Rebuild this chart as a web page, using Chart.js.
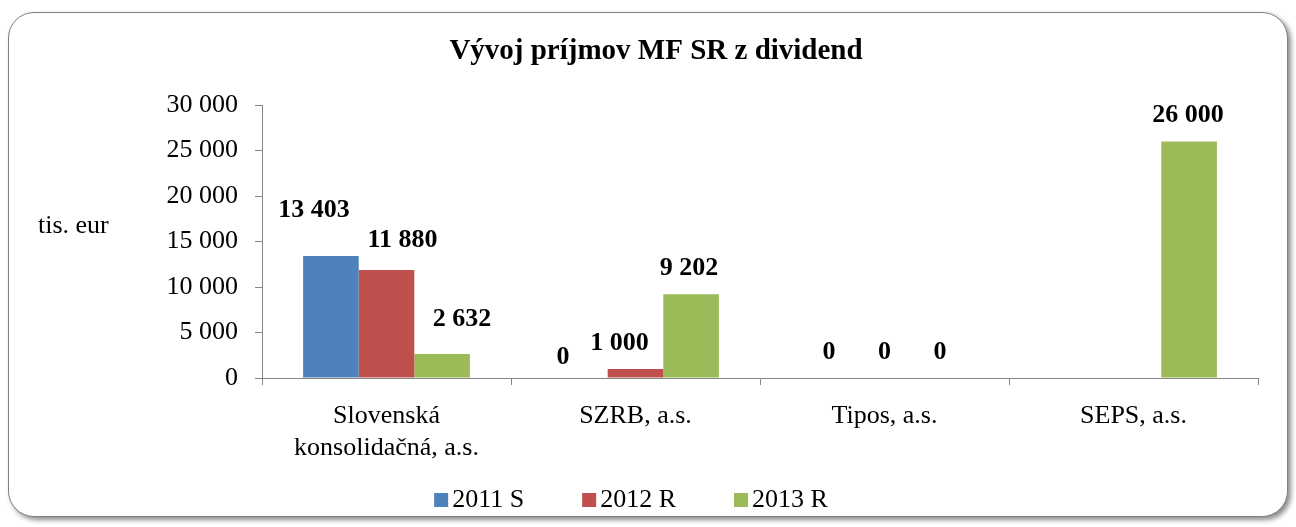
<!DOCTYPE html>
<html>
<head>
<meta charset="utf-8">
<script src="https://cdn.jsdelivr.net/npm/chart.js@4"></script>
<style>
  html, body { margin: 0; padding: 0; background: #fff; }
  #frame {
    position: absolute; left: 8px; top: 12px; width: 1278px; height: 503px;
    border: 1.5px solid #808080; border-radius: 26px;
    box-shadow: 3px 3px 5px rgba(0,0,0,0.45);
    background: #fff;
  }
  #wrap { position: absolute; left: 0; top: 0; width: 1296px; height: 527px; }
</style>
</head>
<body>
<div id="frame"></div>
<div id="wrap"><canvas id="chartDividends"></canvas></div>
<script>
// categories and series (tis. eur)
const companies = [
    ["Slovenská", "konsolidačná, a.s."],
    "SZRB, a.s.",
    "Tipos, a.s.",
    "SEPS, a.s."
];
const seriesNames = ["2011 S", "2012 R", "2013 R"];
const values2011 = [13403, 0, 0, null];
const values2012 = [11880, 1000, 0, null];
const values2013 = [2632, 9202, 0, 26000];
const yTicks = [0, 5000, 10000, 15000, 20000, 25000, 30000];

const colors = ["#4F81BD", "#C0504D", "#9BBB59"];
const serif = "'Liberation Serif', 'Times New Roman', serif";

// the labels in the original were dragged by hand; [dx, dy] from the bar top
const labelNudge = [
    [[-17, -46], [-17, -21], [0, -26], null],
    [[16, -30], [-16, -26], [0, -26], null],
    [[20, -35], [-2, -26], [0, -26], [-1, -26]]
];

function fmt(v) {
    return String(v).replace(/\B(?=(\d{3})+(?!\d))/g, " ");
}

// title, axis caption, value labels and legend drawn straight on the canvas
const decorations = {
    id: "decorations",
    afterDatasetsDraw(chart) {
        const ctx = chart.ctx;
        ctx.save();
        ctx.fillStyle = "#000";

        // value labels above bars
        ctx.font = "bold 26px " + serif;
        ctx.textAlign = "center";
        ctx.textBaseline = "middle";
        chart.data.datasets.forEach((ds, i) => {
            chart.getDatasetMeta(i).data.forEach((bar, j) => {
                const v = ds.data[j];
                if (v === null) return;
                const n = labelNudge[i][j] || [0, -26];
                ctx.fillText(fmt(v), bar.x + n[0], bar.y + n[1]);
            });
        });

        // title
        ctx.font = "bold 29px " + serif;
        ctx.fillText("Vývoj príjmov MF SR z dividend", 656, 52);

        // y axis caption
        ctx.font = "26px " + serif;
        ctx.textAlign = "left";
        ctx.fillText("tis. eur", 38, 226);

        // legend
        const box = 14, gap = 4, spacing = 58;
        const widths = seriesNames.map(n => box + gap + ctx.measureText(n).width);
        const total = widths.reduce((a, b) => a + b, 0) + spacing * (widths.length - 1);
        let x = 631 - total / 2;
        const y = 500;
        seriesNames.forEach((n, i) => {
            ctx.fillStyle = colors[i];
            ctx.fillRect(x, y - box / 2, box, box);
            ctx.fillStyle = "#000";
            ctx.fillText(n, x + box + gap, y);
            x += widths[i] + spacing;
        });
        ctx.restore();
    }
};

const data = {
    labels: companies,
    datasets: [values2011, values2012, values2013].map((vals, i) => ({
        label: seriesNames[i],
        data: vals,
        backgroundColor: colors[i],
        borderWidth: 0,
        categoryPercentage: 0.67,
        barPercentage: 1.0
    }))
};

const options = {
    responsive: true,
    maintainAspectRatio: false,
    animation: false,
    layout: { padding: { top: 105, right: 38, bottom: 0, left: 0 } },
    plugins: {
        legend: { display: false },
        title: { display: false },
        tooltip: { enabled: false }
    },
    scales: {
        x: {
            type: "category",
            border: { color: "#868686", width: 1 },
            grid: {
                offset: true,
                drawOnChartArea: false,
                tickLength: 7,
                color: "#868686"
            },
            ticks: {
                color: "#000",
                font: { family: serif, size: 26 },
                padding: 16,
                maxRotation: 0,
                autoSkip: false
            },
            afterFit(scale) { scale.height = 149; }
        },
        y: {
            min: 0,
            max: 30000,
            border: { color: "#868686", width: 1 },
            grid: {
                drawOnChartArea: false,
                tickLength: 7,
                color: "#868686"
            },
            afterBuildTicks(scale) {
                scale.ticks = yTicks.map(v => ({ value: v }));
            },
            ticks: {
                color: "#000",
                font: { family: serif, size: 26 },
                padding: 17,
                callback: v => fmt(v)
            },
            afterFit(scale) { scale.width = 262; }
        }
    }
};

const ctx = document.getElementById("chartDividends").getContext("2d");
const dividendChart = new Chart(ctx, {
    type: "bar",
    data: data,
    options: options,
    plugins: [decorations]
});
</script>
</body>
</html>
